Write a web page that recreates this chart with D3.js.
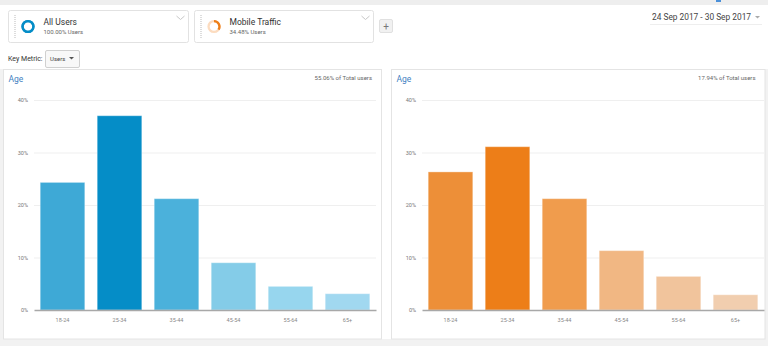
<!DOCTYPE html>
<html>
<head>
<meta charset="utf-8">
<script src="https://cdn.jsdelivr.net/npm/d3@7"></script>
<style>
html,body{margin:0;padding:0;background:#fff;}
svg{display:block;font-family:Roboto,"Open Sans",Arial,sans-serif;}
</style>
</head>
<body>
<svg id="c" width="768" height="346"></svg>
<script>
// ---- data ----
const categories = ["18-24","25-34","35-44","45-54","55-64","65+"];
const allUsersValues = [24.4, 37.1, 21.3, 9.1, 4.6, 3.2];
const mobileValues = [26.4, 31.2, 21.3, 11.4, 6.5, 3.0];
const allUsersColors = ["#3ea9d6","#058dc7","#4bb1db","#84cce8","#97d6ee","#a1d8f0"];
const mobileColors = ["#ed8f38","#ed7e18","#f09c4d","#f1b783","#f1c49c","#f1ceaf"];
const yTicks = [0, 10, 20, 30, 40];
const segmentNames = ["All Users","Mobile Traffic"];
const segmentShares = [100.00, 34.48];
const panelShares = ["55.06% of Total users","17.94% of Total users"];
const dateRange = "24 Sep 2017 - 30 Sep 2017";

const svg = d3.select("#c");

// background strips
svg.append("rect").attr("x",0).attr("y",0).attr("width",768).attr("height",5).attr("fill","#eeeeee");
svg.append("rect").attr("x",0).attr("y",69).attr("width",768).attr("height",277).attr("fill","#ffffff");
svg.append("rect").attr("x",0).attr("y",339).attr("width",768).attr("height",7).attr("fill","#f2f2f2");
svg.append("rect").attr("x",0).attr("y",69).attr("width",3).attr("height",277).attr("fill","#f2f2f2");
svg.append("rect").attr("x",765).attr("y",69).attr("width",3).attr("height",277).attr("fill","#f2f2f2");

// ---- segment cards ----
const cards = [
  {x:8.5, w:180, color:"#058dc7", rest:"#058dc7"},
  {x:194.5, w:179, color:"#ed7e18", rest:"#fcdcc0"}
];
cards.forEach((c,i)=>{
  const g = svg.append("g");
  g.append("rect").attr("x",c.x).attr("y",10.5).attr("width",c.w).attr("height",32)
    .attr("rx",2).attr("fill","#fff").attr("stroke","#e2e2e2");
  g.append("line").attr("x1",c.x+6.5).attr("x2",c.x+6.5).attr("y1",15).attr("y2",38)
    .attr("stroke","#dddddd").attr("stroke-width",2).attr("stroke-dasharray","1,1");
  const cx = c.x+19.5, cy = 26.5;
  const arc = d3.arc().innerRadius(4.3).outerRadius(6.6);
  const frac = segmentShares[i]/100;
  g.append("path").attr("transform",`translate(${cx},${cy})`)
    .attr("d",arc({startAngle:0,endAngle:2*Math.PI})).attr("fill",c.rest);
  g.append("path").attr("transform",`translate(${cx},${cy})`)
    .attr("d",arc({startAngle:0,endAngle:2*Math.PI*frac})).attr("fill",c.color);
  g.append("text").attr("x",c.x+35).attr("y",25).attr("font-size",8.5).attr("fill","#333")
    .text(segmentNames[i]);
  g.append("text").attr("x",c.x+35).attr("y",33.5).attr("font-size",6).attr("fill","#666")
    .text(segmentShares[i].toFixed(2)+"% Users");
  g.append("path").attr("d",`M${c.x+c.w-12},16 l4,3.5 l4,-3.5`).attr("fill","none")
    .attr("stroke","#c8c8c8").attr("stroke-width",1);
});
// plus button
svg.append("rect").attr("x",379.5).attr("y",19.5).attr("width",13).attr("height",13).attr("rx",1.5)
  .attr("fill","#f1f1f1").attr("stroke","#e0e0e0");
svg.append("text").attr("x",386).attr("y",29.5).attr("text-anchor","middle").attr("font-size",10)
  .attr("fill","#777").text("+");

// date range
svg.append("text").attr("x",652).attr("y",20).attr("font-size",8.6).attr("fill","#444")
  .attr("textLength",99).attr("lengthAdjust","spacingAndGlyphs").text(dateRange);
svg.append("path").attr("d","M755,16 l5,0 l-2.5,2.5 z").attr("fill","#aaa");
svg.append("line").attr("x1",650).attr("x2",762).attr("y1",24.5).attr("y2",24.5).attr("stroke","#eeeeee");
svg.append("rect").attr("x",716).attr("y",0).attr("width",5).attr("height",2).attr("fill","#4a90d9");

// key metric
svg.append("text").attr("x",8).attr("y",61).attr("font-size",7).attr("fill","#333").text("Key Metric:");
svg.append("rect").attr("x",45.5).attr("y",50.5).attr("width",34).attr("height",17).attr("rx",1.5)
  .attr("fill","#f8f8f8").attr("stroke","#d0d0d0");
svg.append("text").attr("x",50).attr("y",61).attr("font-size",6).attr("fill","#444").text("Users");
svg.append("path").attr("d","M69,57 l5,0 l-2.5,2.5 z").attr("fill","#555");

// ---- panels ----
function panel(px, pw, plotX0, values, colors, share){
  const g = svg.append("g");
  g.append("rect").attr("x",px).attr("y",69.5).attr("width",pw).attr("height",269.5)
    .attr("fill","#fff").attr("stroke","#e4e4e4");
  g.append("text").attr("x",px+5).attr("y",82).attr("font-size",8.5).attr("fill","#3f7fc1").text("Age");
  g.append("text").attr("x",px+pw-9.5).attr("y",80).attr("text-anchor","end").attr("font-size",6)
    .attr("fill","#666").text(share);

  const x = d3.scaleBand().domain(categories).range([plotX0, plotX0+342])
    .paddingInner(0.2).paddingOuter(0.1);
  const y = d3.scaleLinear().domain([0,40]).range([310,100]);

  // gridlines
  g.append("g").selectAll("line").data(yTicks.filter(t=>t>0)).join("line")
    .attr("x1",plotX0).attr("x2",plotX0+342)
    .attr("y1",d=>y(d)+0.5).attr("y2",d=>y(d)+0.5).attr("stroke","#efefef");

  const ya = d3.axisLeft(y).tickValues(yTicks).tickFormat(d=>d+"%").tickSize(0).tickPadding(6);
  const yg = g.append("g").attr("transform",`translate(${plotX0},0)`).call(ya);
  yg.select(".domain").remove();
  yg.selectAll("text").attr("font-size",5.5).attr("fill","#777").attr("font-family","Roboto,Arial,sans-serif");

  g.append("g").selectAll("rect").data(values).join("rect")
    .attr("x",(d,i)=>x(categories[i])+0.5).attr("width",x.bandwidth()-1)
    .attr("y",d=>y(d)+0.5).attr("height",d=>y(0)-y(d)-0.5)
    .attr("fill",(d,i)=>colors[i]).attr("stroke","#ffffff").attr("stroke-opacity",0.35).attr("stroke-width",1);

  const xa = d3.axisBottom(x).tickSize(0).tickPadding(8);
  const xg = g.append("g").attr("transform",`translate(0,310)`).call(xa);
  xg.select(".domain").attr("stroke","#a8a8a8").attr("stroke-width",1.3);
  xg.selectAll("text").attr("font-size",5.5).attr("fill","#888").attr("font-family","Roboto,Arial,sans-serif");
}
panel(3.5, 378, 34, allUsersValues, allUsersColors, panelShares[0]);
panel(391.5, 373.5, 422, mobileValues, mobileColors, panelShares[1]);
</script>
</body>
</html>
